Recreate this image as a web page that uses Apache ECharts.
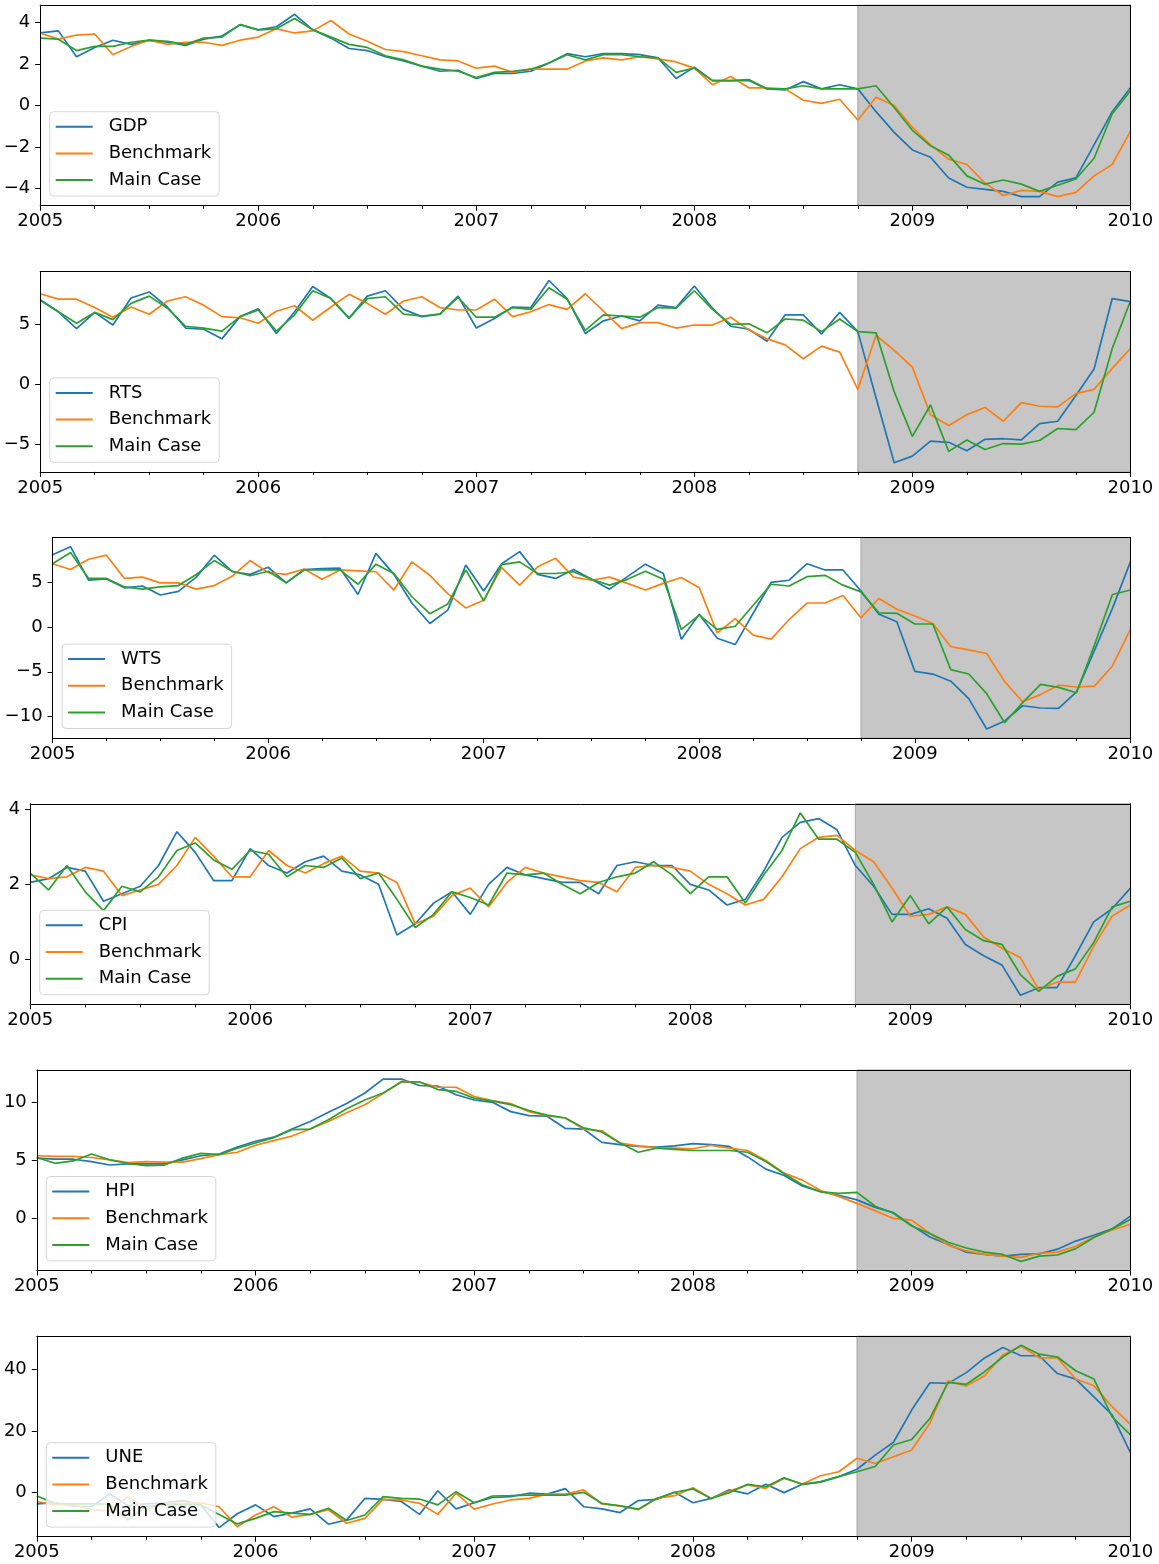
<!DOCTYPE html>
<html>
<head>
<meta charset="utf-8">
<script src="https://cdn.jsdelivr.net/npm/echarts@6/dist/echarts.min.js"></script>
<style>
html, body { margin: 0; padding: 0; background: #fff; }
#chart { width: 1159px; height: 1564px; }
</style>
</head>
<body>
<div id="chart"></div>
<script>
// x = months since 2005-01, one point per month up to 2010-01
var yearLabels = ['2005', '2006', '2007', '2008', '2009', '2010'];
var recessionStart = 45; // 2008-10
var recessionEnd = 60;   // 2010-01
var seriesNames = ['Benchmark', 'Main Case'];

var gdp = [3.5, 3.6, 2.35, 2.8, 3.15, 2.95, 3.15, 3.05, 2.9, 3.2, 3.35, 3.9,
	3.65, 3.8, 4.4, 3.65, 3.25, 2.75, 2.65, 2.35, 2.15, 1.9, 1.65, 1.7,
	1.3, 1.55, 1.55, 1.65, 2.05, 2.5, 2.35, 2.5, 2.5, 2.45, 2.3, 1.3,
	1.85, 1.2, 1.2, 1.2, 0.8, 0.75, 1.15, 0.8, 1.0, 0.8, -0.3, -1.3,
	-2.15, -2.5, -3.5, -3.95, -4.05, -4.15, -4.4, -4.4, -3.7, -3.5, -1.9, -0.3, 0.85];
var gdpBenchmark = [3.5, 3.2, 3.4, 3.45, 2.45, 2.85, 3.15, 2.95, 3.05, 3.05, 2.9, 3.15,
	3.3, 3.7, 3.5, 3.6, 4.1, 3.45, 3.1, 2.7, 2.6, 2.4, 2.2, 2.15,
	1.8, 1.9, 1.6, 1.75, 1.75, 1.75, 2.15, 2.3, 2.2, 2.35, 2.25, 2.1,
	1.8, 1.0, 1.4, 0.85, 0.85, 0.8, 0.25, 0.1, 0.3, -0.7, 0.4, 0.0,
	-1.05, -1.9, -2.6, -2.85, -3.75, -4.35, -4.1, -4.15, -4.4, -4.2, -3.4, -2.85, -1.25];
var gdpMainCase = [3.25, 3.2, 2.65, 2.85, 2.85, 3.05, 3.15, 3.1, 2.95, 3.25, 3.3, 3.9,
	3.65, 3.7, 4.2, 3.65, 3.3, 2.95, 2.8, 2.4, 2.2, 1.9, 1.75, 1.65,
	1.35, 1.6, 1.65, 1.75, 2.05, 2.45, 2.2, 2.45, 2.45, 2.35, 2.3, 1.6,
	1.8, 1.2, 1.2, 1.25, 0.8, 0.8, 0.95, 0.8, 0.8, 0.8, 0.95, -0.1,
	-1.2, -1.95, -2.4, -3.4, -3.8, -3.6, -3.8, -4.15, -3.85, -3.55, -2.55, -0.4, 0.7];

var rts = [7.05, 6.05, 4.65, 6.0, 4.95, 7.2, 7.7, 6.45, 4.7, 4.6, 3.8, 5.65,
	6.3, 4.25, 6.05, 8.15, 7.15, 5.5, 7.35, 7.8, 6.25, 5.65, 5.85, 7.35,
	4.7, 5.5, 6.45, 6.4, 8.65, 7.15, 4.25, 5.3, 5.7, 5.3, 6.6, 6.4,
	8.2, 6.35, 4.85, 4.6, 3.6, 5.8, 5.8, 4.2, 6.0, 4.4, -1.1, -6.5,
	-5.95, -4.7, -4.8, -5.5, -4.55, -4.5, -4.6, -3.25, -3.05, -0.9, 1.3, 7.15, 6.9];
var rtsBenchmark = [7.55, 7.1, 7.1, 6.4, 5.6, 6.45, 5.85, 6.95, 7.3, 6.6, 5.65, 5.55,
	5.1, 6.1, 6.55, 5.35, 6.45, 7.5, 6.75, 5.85, 6.95, 7.3, 6.4, 6.2,
	6.2, 7.1, 5.65, 6.05, 6.65, 6.25, 7.55, 6.1, 4.65, 5.15, 5.15, 4.7,
	4.95, 4.95, 5.6, 4.55, 3.8, 3.3, 2.15, 3.2, 2.7, -0.4, 4.1, 2.85,
	1.45, -2.5, -3.4, -2.5, -1.9, -3.05, -1.5, -1.8, -1.85, -0.75, -0.4, 1.35, 3.0];
var rtsMainCase = [7.0, 6.05, 5.1, 6.0, 5.4, 6.75, 7.35, 6.35, 4.85, 4.7, 4.45, 5.65,
	6.2, 4.45, 5.8, 7.8, 7.15, 5.55, 7.15, 7.3, 5.85, 5.7, 5.85, 7.25,
	5.6, 5.6, 6.4, 6.25, 8.05, 7.1, 4.5, 5.8, 5.7, 5.6, 6.4, 6.35,
	7.8, 6.25, 5.0, 5.05, 4.3, 5.45, 5.35, 4.4, 5.45, 4.4, 4.3, -0.6,
	-4.3, -1.7, -5.55, -4.6, -5.4, -4.9, -4.95, -4.65, -3.65, -3.75, -2.3, 3.0, 6.95];

var wts = [8.1, 9.0, 5.25, 5.4, 4.4, 4.6, 3.6, 4.0, 5.6, 8.05, 6.2, 5.9,
	6.7, 4.95, 6.45, 6.55, 6.6, 3.65, 8.25, 5.9, 2.7, 0.4, 1.9, 6.95,
	4.05, 7.1, 8.45, 5.9, 5.45, 6.45, 5.35, 4.25, 5.65, 7.05, 6.0, -1.35,
	1.45, -1.25, -1.95, 1.55, 5.0, 5.25, 7.1, 6.4, 6.4, 4.05, 1.45, 0.6,
	-4.95, -5.25, -6.05, -8.0, -11.4, -10.5, -8.8, -9.05, -9.1, -7.25, -2.6, 2.1, 7.3];
var wtsBenchmark = [7.1, 6.45, 7.6, 8.05, 5.45, 5.6, 4.95, 4.95, 4.25, 4.65, 5.7, 7.45,
	6.1, 5.9, 6.5, 5.35, 6.4, 6.3, 6.2, 4.15, 7.3, 5.8, 3.75, 2.15,
	3.0, 6.65, 4.7, 6.75, 7.7, 5.6, 5.25, 5.6, 4.9, 4.15, 4.9, 5.55,
	4.4, -0.65, 0.95, -0.9, -1.35, 0.85, 2.7, 2.7, 3.55, 1.05, 3.2, 2.0,
	1.25, 0.4, -2.2, -2.55, -2.95, -6.1, -8.35, -7.55, -6.5, -6.7, -6.6, -4.35, -0.25];
var wtsMainCase = [7.1, 8.35, 5.45, 5.45, 4.5, 4.25, 4.5, 4.65, 5.9, 7.45, 6.25, 5.75,
	6.25, 4.95, 6.4, 6.4, 6.4, 4.8, 7.05, 6.0, 3.4, 1.5, 2.6, 6.4,
	2.95, 7.0, 7.3, 6.0, 6.0, 6.2, 5.35, 4.7, 5.35, 6.25, 5.35, -0.25,
	1.35, -0.25, 0.1, 2.45, 4.8, 4.6, 5.65, 5.8, 4.7, 3.95, 1.6, 1.55,
	0.35, 0.35, -4.75, -5.25, -7.45, -10.7, -8.45, -6.4, -6.75, -7.35, -2.0, 3.65, 4.15];

var cpi = [2.05, 2.15, 2.45, 2.35, 1.55, 1.75, 1.95, 2.5, 3.4, 2.85, 2.1, 2.1,
	2.95, 2.5, 2.3, 2.6, 2.75, 2.35, 2.25, 2.0, 0.65, 0.95, 1.5, 1.8,
	1.2, 2.0, 2.45, 2.25, 2.15, 2.05, 2.05, 1.75, 2.5, 2.6, 2.5, 2.5,
	2.0, 1.85, 1.45, 1.6, 2.35, 3.25, 3.65, 3.75, 3.45, 2.5, 1.95, 1.2,
	1.2, 1.35, 1.1, 0.4, 0.1, -0.15, -0.95, -0.75, -0.75, 0.1, 1.0, 1.35, 1.9];
var cpiBenchmark = [2.25, 2.15, 2.2, 2.45, 2.35, 1.7, 1.85, 2.0, 2.5, 3.25, 2.75, 2.2,
	2.2, 2.9, 2.5, 2.3, 2.55, 2.75, 2.35, 2.3, 2.05, 0.95, 1.15, 1.7,
	1.9, 1.4, 2.05, 2.45, 2.3, 2.2, 2.1, 2.05, 1.8, 2.45, 2.5, 2.45,
	2.35, 2.0, 1.75, 1.45, 1.6, 2.2, 2.95, 3.25, 3.3, 2.9, 2.6, 1.9,
	1.15, 1.2, 1.4, 1.2, 0.6, 0.3, 0.05, -0.8, -0.6, -0.6, 0.35, 1.15, 1.45];
var cpiMainCase = [2.3, 1.85, 2.5, 1.8, 1.3, 1.95, 1.8, 2.2, 2.9, 3.1, 2.65, 2.4,
	2.9, 2.8, 2.2, 2.5, 2.45, 2.7, 2.15, 2.3, 1.6, 0.85, 1.2, 1.8,
	1.65, 1.45, 2.3, 2.25, 2.3, 2.0, 1.75, 2.05, 2.2, 2.3, 2.6, 2.25,
	1.75, 2.2, 2.2, 1.5, 2.25, 2.9, 3.9, 3.2, 3.2, 2.85, 2.0, 1.0,
	1.7, 0.95, 1.4, 0.8, 0.5, 0.4, -0.4, -0.85, -0.45, -0.25, 0.45, 1.4, 1.55];

var hpi = [5.2, 5.1, 5.1, 4.9, 4.6, 4.7, 4.7, 4.7, 5.05, 5.4, 5.55, 6.15,
	6.65, 7.0, 7.7, 8.35, 9.15, 9.9, 10.8, 12.0, 12.0, 11.45, 11.4, 10.65,
	10.2, 10.0, 9.2, 8.85, 8.8, 7.75, 7.7, 6.55, 6.35, 6.2, 6.15, 6.25,
	6.45, 6.35, 6.2, 5.3, 4.25, 3.7, 2.8, 2.3, 2.0, 1.6, 0.95, 0.5,
	-0.6, -1.6, -2.25, -2.9, -3.1, -3.25, -3.1, -3.05, -2.65, -1.95, -1.45, -0.9, 0.2];
var hpiBenchmark = [5.4, 5.35, 5.35, 5.25, 5.05, 4.8, 4.9, 4.85, 4.85, 5.15, 5.5, 5.7,
	6.3, 6.7, 7.1, 7.7, 8.35, 9.1, 9.8, 10.75, 11.8, 11.75, 11.3, 11.3,
	10.5, 10.15, 9.9, 9.2, 8.85, 8.65, 7.7, 7.55, 6.5, 6.25, 6.1, 6.05,
	6.0, 6.3, 6.05, 5.85, 5.0, 3.9, 3.3, 2.4, 1.9, 1.3, 0.65, 0.0,
	-0.15, -1.3, -2.3, -2.8, -3.1, -3.25, -3.35, -3.0, -2.9, -2.4, -1.6, -1.0, -0.5];
var hpiMainCase = [5.25, 4.75, 4.95, 5.55, 5.05, 4.75, 4.55, 4.6, 5.2, 5.6, 5.5, 6.05,
	6.5, 6.95, 7.65, 7.7, 8.5, 9.45, 10.2, 10.8, 11.75, 11.75, 11.1, 10.95,
	10.35, 10.1, 9.8, 9.3, 8.9, 8.65, 7.8, 7.45, 6.5, 5.7, 6.05, 5.95,
	5.85, 5.85, 5.85, 5.7, 4.9, 3.85, 2.9, 2.3, 2.15, 2.25, 1.05, 0.45,
	-0.65, -1.3, -2.05, -2.55, -2.9, -3.1, -3.7, -3.25, -3.15, -2.6, -1.65, -0.9, -0.1];

var une = [-3.8, -3.4, -4.5, -4.7, -0.5, -4.4, -3.8, -3.4, -2.7, -4.1, -11.5, -7.0,
	-4.1, -7.9, -6.8, -5.4, -10.4, -9.0, -2.0, -2.3, -3.0, -7.2, 0.5, -5.4,
	-3.4, -1.7, -1.4, -0.3, -0.6, 1.2, -4.7, -5.4, -6.6, -2.7, -2.3, 0.0,
	-3.4, -2.0, 0.8, -0.5, 2.6, -0.1, 2.6, 3.3, 5.1, 7.5, 12.1, 16.3,
	26.8, 35.7, 35.5, 39.0, 43.8, 47.2, 44.5, 44.5, 38.7, 36.9, 31.1, 25.2, 12.9];
var uneBenchmark = [-3.0, -4.1, -4.1, -5.7, -6.0, -1.4, -5.5, -3.6, -3.6, -3.4, -4.7, -11.2,
	-7.4, -4.7, -8.1, -7.2, -5.7, -10.1, -8.5, -2.3, -2.5, -3.6, -7.2, -0.3,
	-5.5, -3.8, -2.5, -2.0, -0.6, -0.6, 0.8, -3.8, -4.4, -5.7, -2.0, -1.1,
	1.5, -2.0, 0.4, 2.4, 1.3, 4.6, 2.7, 5.4, 6.7, 11.1, 9.4, 11.6,
	13.8, 22.5, 36.3, 34.6, 38.0, 44.7, 47.7, 43.8, 43.8, 36.9, 34.7, 27.9, 22.1];
var uneMainCase = [-1.2, -3.6, -3.8, -3.8, -3.9, -9.0, -4.7, -4.1, -4.1, -4.1, -7.2, -10.3,
	-8.5, -6.3, -6.8, -7.2, -5.2, -9.2, -7.4, -1.4, -2.0, -2.2, -4.1, 0.2,
	-3.4, -1.2, -1.1, -0.9, -0.9, -0.9, 0.0, -3.6, -4.4, -5.5, -2.0, 0.0,
	1.1, -2.0, -0.1, 2.6, 1.8, 4.7, 2.6, 3.5, 5.1, 6.7, 8.4, 15.4,
	17.2, 24.1, 35.8, 35.2, 39.3, 44.1, 47.9, 45.0, 44.1, 39.6, 36.9, 24.6, 18.7];

var panelNames = ['GDP', 'RTS', 'WTS', 'CPI', 'HPI', 'UNE'];
var panelData = [
	[gdp, gdpBenchmark, gdpMainCase],
	[rts, rtsBenchmark, rtsMainCase],
	[wts, wtsBenchmark, wtsMainCase],
	[cpi, cpiBenchmark, cpiMainCase],
	[hpi, hpiBenchmark, hpiMainCase],
	[une, uneBenchmark, uneMainCase]
];
var yTicks = [
	[-4, -2, 0, 2, 4],
	[-5, 0, 5],
	[-10, -5, 0, 5],
	[0, 2, 4],
	[0, 5, 10],
	[0, 20, 40]
];

// layout of the six stacked axes
var plotLeft = [40.2, 40.2, 52.6, 30.2, 36.8, 36.8];
var plotRight = 1130.4;
var plotTop0 = 5.2, plotStep = 266.2, plotHeight = 200.5;
var colors = ['#1f77b4', '#ff7f0e', '#2ca02c'];
var font = 'DejaVu Sans';

function spine(extra) {
	var s = {
		z: 3,
		splitLine: { show: false },
		axisLine: { show: true, onZero: false, lineStyle: { color: '#000', width: 1 } },
		axisTick: { show: false },
		axisLabel: { show: false }
	};
	for (var k in extra) s[k] = extra[k];
	return s;
}

function buildOption() {
	var option = {
		animation: false,
		backgroundColor: '#ffffff',
		textStyle: { fontFamily: font },
		grid: [], xAxis: [], yAxis: [], legend: [], series: []
	};
	for (var i = 0; i < panelData.length; i++) {
		var gridTop = plotTop0 + plotStep * i;
		var all = panelData[i][0].concat(panelData[i][1], panelData[i][2]);
		var lo = Math.min.apply(null, all), hi = Math.max.apply(null, all);
		var pad = (hi - lo) * 0.05; // matplotlib default margin

		option.grid.push({ left: plotLeft[i], top: gridTop, width: plotRight - plotLeft[i], height: plotHeight });

		// bottom axis: years, quarter minor ticks
		option.xAxis.push(spine({
			type: 'value', gridIndex: i, min: 0, max: 60, interval: 12, position: 'bottom',
			axisTick: { show: true, length: 5, lineStyle: { color: '#000', width: 1 } },
			minorTick: { show: true, splitNumber: 4, length: 3, lineStyle: { color: '#000', width: 1 } },
			minorSplitLine: { show: false },
			axisLabel: {
				show: true, margin: 7, fontSize: 18, color: '#000', fontFamily: font,
				showMinLabel: true, showMaxLabel: true,
				formatter: function (v) { return yearLabels[Math.round(v / 12)]; }
			}
		}));
		option.xAxis.push(spine({ type: 'value', gridIndex: i, min: 0, max: 60, position: 'top' }));

		option.yAxis.push(spine({
			type: 'value', gridIndex: i, min: lo - pad, max: hi + pad, position: 'left',
			axisTick: { show: true, length: 5, customValues: yTicks[i], lineStyle: { color: '#000', width: 1 } },
			axisLabel: {
				show: true, margin: 10, fontSize: 18, color: '#000', fontFamily: font,
				customValues: yTicks[i],
				formatter: function (v) { return String(v).replace('-', '\u2212'); }
			}
		}));
		option.yAxis.push(spine({ type: 'value', gridIndex: i, min: lo - pad, max: hi + pad, position: 'right' }));

		var names = [panelNames[i]].concat(seriesNames);
		for (var k = 0; k < 3; k++) {
			var s = {
				type: 'line',
				name: names[k],
				xAxisIndex: 2 * i,
				yAxisIndex: 2 * i,
				data: panelData[i][k].map(function (v, j) { return [j, v]; }),
				showSymbol: false,
				symbol: 'none',
				z: 2,
				itemStyle: { color: colors[k] },
				lineStyle: { width: 1.7, color: colors[k] }
			};
			if (k == 0) {
				//recession shading
				s.markArea = {
					silent: true,
					itemStyle: { color: '#c6c6c6', borderColor: '#a6a6a6', borderWidth: 1 },
					data: [[{ xAxis: recessionStart }, { xAxis: recessionEnd }]]
				};
			}
			option.series.push(s);
		}

		option.legend.push({
			data: names,
			orient: 'vertical',
			left: plotLeft[i] + 9.5,
			top: gridTop + plotHeight - 94,
			icon: 'rect',
			itemWidth: 37,
			itemHeight: 2,
			itemGap: 8.7,
			padding: [6, 8, 7, 6],
			backgroundColor: 'rgba(255,255,255,0.8)',
			borderColor: 'rgba(204,204,204,0.8)',
			borderWidth: 1,
			borderRadius: 4,
			selectedMode: false,
			z: 5,
			textStyle: { fontSize: 18, color: '#000', fontFamily: font, lineHeight: 18, padding: [0, 0, 0, 11] }
		});
	}
	return option;
}

var myChart = echarts.init(document.getElementById('chart'));
myChart.setOption(buildOption());
</script>
</body>
</html>
